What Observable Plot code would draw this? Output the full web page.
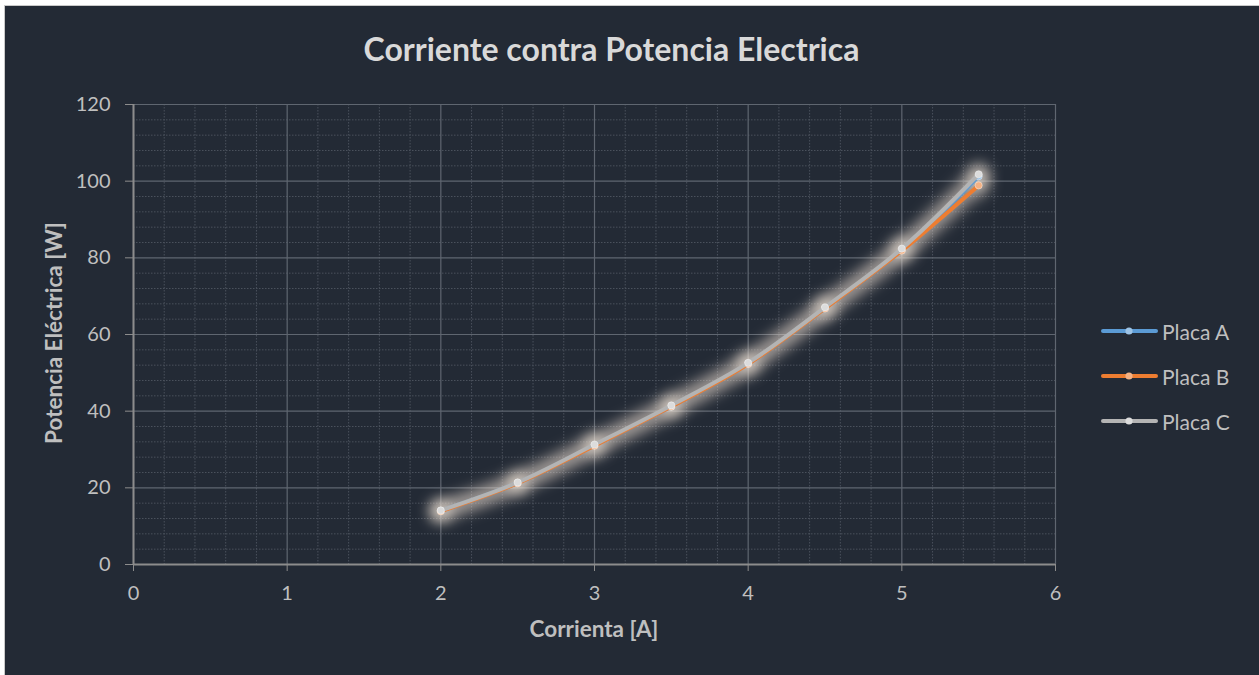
<!DOCTYPE html>
<html><head><meta charset="utf-8">
<script src="https://cdn.jsdelivr.net/npm/d3@7"></script>
<script src="https://cdn.jsdelivr.net/npm/@observablehq/plot@0.6"></script>
<style>
html,body{margin:0;padding:0;}
body{background:#ffffff;width:1259px;height:675px;overflow:hidden;position:relative;font-family:Lato,"Open Sans",sans-serif;}
#frame{position:absolute;left:4px;top:5px;width:1255px;height:670px;background:#232a35;border-left:1px solid #c9c9c9;border-top:1px solid #c9c9c9;box-sizing:border-box;}
#title{position:absolute;left:0;top:29px;width:1223px;text-align:center;font-size:32px;line-height:40px;font-weight:bold;color:#d9d9d9;}
.axtitle{position:absolute;font-size:22.5px;font-weight:bold;color:#bfbfbf;white-space:nowrap;line-height:26px;}
#xt{left:594px;top:629px;transform:translate(-50%,-50%);}
#yt{left:53.5px;top:332.5px;transform:translate(-50%,-50%) rotate(-90deg);}
#chart{position:absolute;left:0;top:0;}
#legend{position:absolute;left:1101px;top:0;}
.item{position:absolute;left:0;display:flex;align-items:center;height:26px;color:#bfbfbf;font-size:21px;white-space:nowrap;}
.item svg{margin-right:4px;}
</style></head>
<body>
<div id="frame"></div>
<div id="title">Corriente contra Potencia Electrica</div>
<div id="chart"></div>
<div class="axtitle" id="xt">Corrienta [A]</div>
<div class="axtitle" id="yt">Potencia Eléctrica [W]</div>
<div id="legend"></div>
<script>
// Data
const corriente = [2, 2.5, 3, 3.5, 4, 4.5, 5, 5.5];
const placaA = [14.0, 21.3, 31.1, 41.2, 52.4, 66.9, 82.1, 101.3];
const placaB = [13.9, 21.2, 31.0, 41.2, 52.3, 66.8, 81.9, 98.9];
const placaC = [14.1, 21.4, 31.3, 41.5, 52.6, 67.1, 82.4, 101.8];
const seriesNames = ["Placa A", "Placa B", "Placa C"];
const seriesValues = [placaA, placaB, placaC];
const lineColors = ["#5b9bd5", "#ed7d31", "#b4b4b4"];
const markerColors = ["#9dc3e6", "#f4b183", "#dcdcdc"];
const xTicks = [0, 1, 2, 3, 4, 5, 6];
const yTicks = [0, 20, 40, 60, 80, 100, 120];
const xMinor = d3.range(0, 31).map(i => i / 5).filter(v => !Number.isInteger(v));
const yMinor = d3.range(0, 121, 4).filter(v => v % 20 !== 0);

const rows = seriesNames.flatMap((s, i) => corriente.map((x, j) => ({serie: s, x, y: seriesValues[i][j]})));
const bySerie = s => rows.filter(d => d.serie === s);

const seriesMarks = seriesNames.flatMap((s, i) => [
  Plot.line(bySerie(s), {x: "x", y: "y", stroke: lineColors[i], strokeWidth: 4, curve: "catmull-rom"}),
  Plot.dot(bySerie(s), {x: "x", y: "y", r: 3.6, fill: markerColors[i], stroke: "#ffffff", strokeOpacity: 0.5, strokeWidth: 0.8})
]);

const svg = Plot.plot({
  width: 1259, height: 675,
  marginTop: 104, marginBottom: 111, marginLeft: 133, marginRight: 204,
  x: {domain: [0, 6]},
  y: {domain: [0, 120]},
  style: {background: "transparent", color: "#bfbfbf", fontSize: "20px", fontFamily: "Lato, 'Open Sans', sans-serif"},
  marks: [
    Plot.ruleX(xMinor, {stroke: "#4a515c", strokeDasharray: "1.5,1.5"}),
    Plot.ruleY(yMinor, {stroke: "#4a515c", strokeDasharray: "1.5,1.5"}),
    Plot.ruleX(xTicks, {stroke: "#5f6670", strokeWidth: 1.2}),
    Plot.ruleY(yTicks, {stroke: "#5f6670", strokeWidth: 1.2}),
    Plot.ruleX([0], {stroke: "#8c8c8c", strokeWidth: 2}),
    Plot.ruleY([0], {stroke: "#8c8c8c", strokeWidth: 2}),
    Plot.axisX({ticks: xTicks, tickSize: 7, tickPadding: 14, label: null, stroke: "#8c8c8c", tickFormat: d => String(d)}),
    Plot.axisY({ticks: yTicks, tickSize: 8, tickPadding: 15, label: null, stroke: "#8c8c8c", tickFormat: d => String(d)}),
    Plot.line(rows, {x: "x", y: "y", z: "serie", stroke: "#e9dccf", strokeWidth: 20, strokeOpacity: 0.28, curve: "catmull-rom"}),
    Plot.dot(rows, {x: "x", y: "y", r: 11, fill: "#f5e8dc", fillOpacity: 0.28}),
    ...seriesMarks
  ]
});

// soft glow filter
const defs = d3.select(svg).insert("defs", ":first-child");
const f = defs.append("filter").attr("id", "glow").attr("x", "-30%").attr("y", "-30%").attr("width", "160%").attr("height", "160%");
f.append("feGaussianBlur").attr("stdDeviation", 7);
const lineGroups = svg.querySelectorAll('g[aria-label="line"]');
if (lineGroups.length) lineGroups[0].setAttribute("filter", "url(#glow)");
const dotGroups = svg.querySelectorAll('g[aria-label="dot"]');
if (dotGroups.length) dotGroups[0].setAttribute("filter", "url(#glow)");

document.getElementById("chart").appendChild(svg);

// legend
const legendY = [331, 376, 421];
const leg = document.getElementById("legend");
seriesNames.forEach((s, i) => {
  const it = document.createElement("div");
  it.className = "item";
  it.style.top = (legendY[i] - 13) + "px";
  it.innerHTML = `<svg width="57" height="12"><line x1="2" x2="55" y1="6" y2="6" stroke="${lineColors[i]}" stroke-width="4" stroke-linecap="round"/><circle cx="28" cy="6" r="3.6" fill="${markerColors[i]}"/></svg><span>${s}</span>`;
  leg.appendChild(it);
});
</script>
</body></html>
